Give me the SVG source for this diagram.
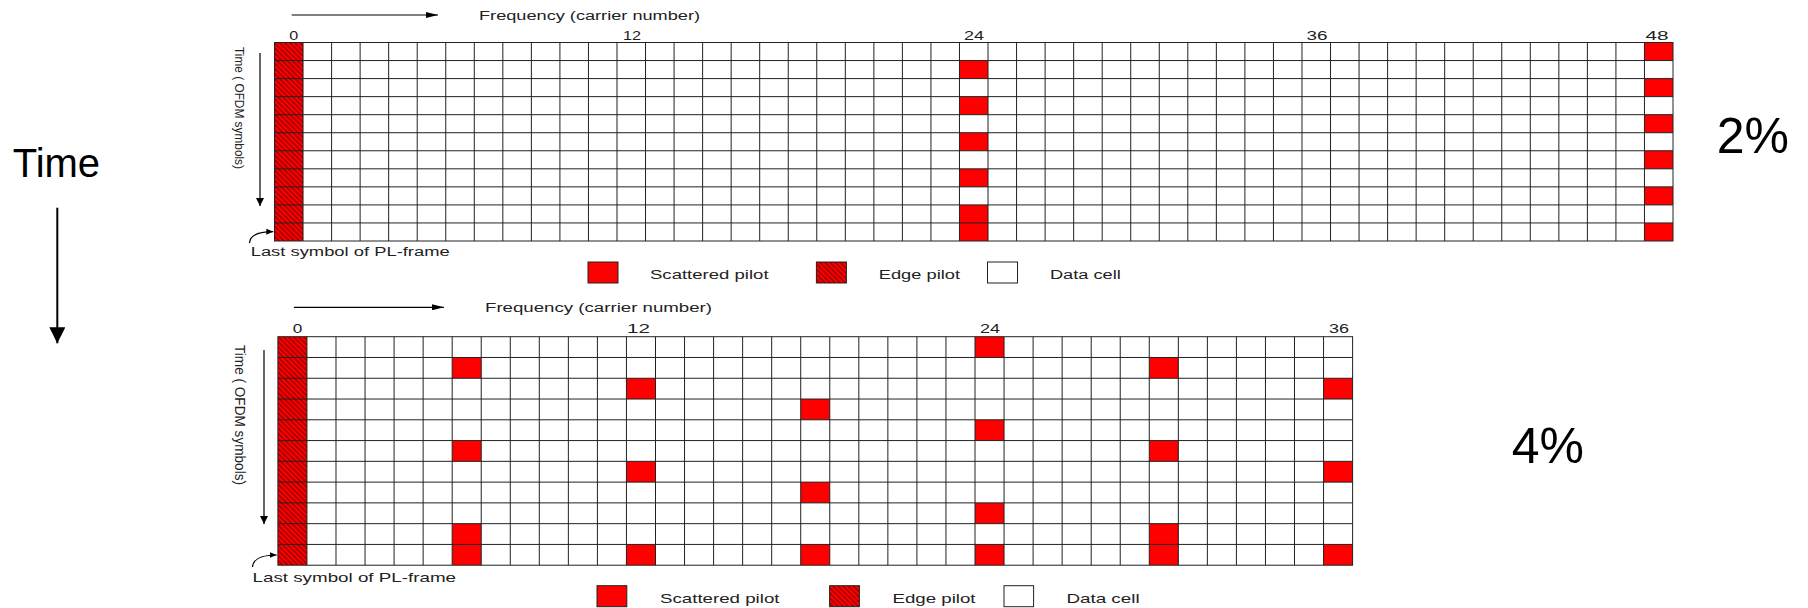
<svg xmlns="http://www.w3.org/2000/svg" width="1808" height="608" viewBox="0 0 1808 608">
<defs>
<style>
.grid{fill:none;stroke:#222;stroke-width:1}
.sp{fill:#f00;stroke:#222;stroke-width:1}
.ep{fill:url(#hatch);stroke:#222;stroke-width:1}
.dc{fill:#fff;stroke:#222;stroke-width:1}
.t{font-family:"Liberation Sans",Arial,sans-serif;fill:#222}
.big{font-family:"Liberation Sans",Arial,sans-serif;fill:#000}
.ar{fill:none;stroke:#000;stroke-width:1.2}
</style>
<pattern id="hatch" width="3.6" height="3.6" patternUnits="userSpaceOnUse" patternTransform="rotate(-45)">
<rect width="3.6" height="3.6" fill="#f00"/>
<line x1="1.8" y1="0" x2="1.8" y2="3.6" stroke="#400" stroke-width="0.8"/>
</pattern>
<marker id="ahS" markerUnits="userSpaceOnUse" markerWidth="12" markerHeight="6" refX="12" refY="3" orient="auto"><path d="M0,0L12,3L0,6z" fill="#000"/></marker>
<marker id="ahM" markerUnits="userSpaceOnUse" markerWidth="8" markerHeight="8" refX="8" refY="4" orient="auto"><path d="M0,0L8,4L0,8z" fill="#000"/></marker>
<marker id="ahC" markerUnits="userSpaceOnUse" markerWidth="7" markerHeight="6" refX="7" refY="3" orient="auto"><path d="M0,0L7,3L0,6z" fill="#000"/></marker>
<marker id="ahB" markerUnits="userSpaceOnUse" markerWidth="16" markerHeight="16" refX="16" refY="8" orient="auto"><path d="M0,0L16,8L0,16z" fill="#000"/></marker>
</defs>
<rect width="1808" height="608" fill="#fff"/>

<g id="time-label">
<text class="big" x="12.7" y="176.7" font-size="40">Time</text>
</g>
<g id="pct-2"><text class="big" x="1716.7" y="153.3" font-size="50">2%</text></g>
<g id="pct-4"><text class="big" x="1511.7" y="462.7" font-size="50">4%</text></g>

<g id="top-grid">
<rect x="274.5" y="42.5" width="1398.5" height="198.5" fill="#fff"/>
<rect x="274.5" y="42.5" width="28.54" height="198.5" fill="url(#hatch)"/>
<g fill="#f00">
<rect x="959.48" y="60.55" width="28.54" height="18.05"/>
<rect x="959.48" y="96.64" width="28.54" height="18.05"/>
<rect x="959.48" y="132.73" width="28.54" height="18.05"/>
<rect x="959.48" y="168.82" width="28.54" height="18.05"/>
<rect x="959.48" y="204.91" width="28.54" height="36.09"/>
<rect x="1644.47" y="42.5" width="28.54" height="18.05"/>
<rect x="1644.47" y="78.59" width="28.54" height="18.05"/>
<rect x="1644.47" y="114.68" width="28.54" height="18.05"/>
<rect x="1644.47" y="150.77" width="28.54" height="18.05"/>
<rect x="1644.47" y="186.86" width="28.54" height="18.05"/>
<rect x="1644.47" y="222.95" width="28.54" height="18.05"/>
</g>
<path class="grid" d="M303.04 42.5V241M331.58 42.5V241M360.12 42.5V241M388.66 42.5V241M417.21 42.5V241M445.75 42.5V241M474.29 42.5V241M502.83 42.5V241M531.37 42.5V241M559.91 42.5V241M588.45 42.5V241M616.99 42.5V241M645.53 42.5V241M674.07 42.5V241M702.62 42.5V241M731.16 42.5V241M759.7 42.5V241M788.24 42.5V241M816.78 42.5V241M845.32 42.5V241M873.86 42.5V241M902.4 42.5V241M930.94 42.5V241M959.48 42.5V241M988.03 42.5V241M1016.57 42.5V241M1045.11 42.5V241M1073.65 42.5V241M1102.19 42.5V241M1130.73 42.5V241M1159.27 42.5V241M1187.81 42.5V241M1216.35 42.5V241M1244.89 42.5V241M1273.44 42.5V241M1301.98 42.5V241M1330.52 42.5V241M1359.06 42.5V241M1387.6 42.5V241M1416.14 42.5V241M1444.68 42.5V241M1473.22 42.5V241M1501.76 42.5V241M1530.3 42.5V241M1558.85 42.5V241M1587.39 42.5V241M1615.93 42.5V241M1644.47 42.5V241M274.5 60.55H1673M274.5 78.59H1673M274.5 96.64H1673M274.5 114.68H1673M274.5 132.73H1673M274.5 150.77H1673M274.5 168.82H1673M274.5 186.86H1673M274.5 204.91H1673M274.5 222.95H1673"/>
<rect class="grid" x="274.5" y="42.5" width="1398.5" height="198.5"/>
<g class="t" font-size="13" text-anchor="middle">
<text x="293.7" y="39.5" textLength="9" lengthAdjust="spacingAndGlyphs">0</text>
<text x="632" y="39.5" textLength="18" lengthAdjust="spacingAndGlyphs">12</text>
<text x="974" y="39.5" textLength="20" lengthAdjust="spacingAndGlyphs">24</text>
<text x="1317" y="39.5" textLength="21" lengthAdjust="spacingAndGlyphs">36</text>
<text x="1657" y="39.5" textLength="23" lengthAdjust="spacingAndGlyphs">48</text>
</g>
<text class="t" x="479" y="20" font-size="12" textLength="221" lengthAdjust="spacingAndGlyphs">Frequency (carrier number)</text>
<text class="t" font-size="13" transform="translate(235,47) rotate(90)" textLength="122" lengthAdjust="spacingAndGlyphs">Time ( OFDM symbols)</text>
<text class="t" x="250.7" y="256" font-size="12.5" textLength="199" lengthAdjust="spacingAndGlyphs">Last symbol of PL-frame</text>
</g>

<g id="top-legend">
<rect class="sp" x="588" y="262" width="30" height="21"/>
<text class="t" x="650" y="279.4" font-size="12.5" textLength="118.6" lengthAdjust="spacingAndGlyphs">Scattered pilot</text>
<rect class="ep" x="816.4" y="262" width="30" height="21"/>
<text class="t" x="878.8" y="279.4" font-size="12.5" textLength="81.2" lengthAdjust="spacingAndGlyphs">Edge pilot</text>
<rect class="dc" x="987.5" y="262" width="30" height="21"/>
<text class="t" x="1049.9" y="279.4" font-size="12.5" textLength="71" lengthAdjust="spacingAndGlyphs">Data cell</text>
</g>

<g id="bottom-grid">
<rect x="277.9" y="336.7" width="1074.7" height="228.5" fill="#fff"/>
<rect x="277.9" y="336.7" width="29.05" height="228.5" fill="url(#hatch)"/>
<g fill="#f00">
<rect x="452.18" y="357.47" width="29.05" height="20.78"/>
<rect x="452.18" y="440.57" width="29.05" height="20.78"/>
<rect x="452.18" y="523.66" width="29.05" height="41.54"/>
<rect x="626.45" y="378.25" width="29.05" height="20.78"/>
<rect x="626.45" y="461.34" width="29.05" height="20.78"/>
<rect x="626.45" y="544.43" width="29.05" height="20.77"/>
<rect x="800.73" y="399.02" width="29.05" height="20.78"/>
<rect x="800.73" y="482.11" width="29.05" height="20.78"/>
<rect x="800.73" y="544.43" width="29.05" height="20.77"/>
<rect x="975" y="336.7" width="29.05" height="20.78"/>
<rect x="975" y="419.79" width="29.05" height="20.78"/>
<rect x="975" y="502.88" width="29.05" height="20.78"/>
<rect x="975" y="544.43" width="29.05" height="20.77"/>
<rect x="1149.28" y="357.47" width="29.05" height="20.78"/>
<rect x="1149.28" y="440.57" width="29.05" height="20.78"/>
<rect x="1149.28" y="523.66" width="29.05" height="41.54"/>
<rect x="1323.56" y="378.25" width="29.05" height="20.78"/>
<rect x="1323.56" y="461.34" width="29.05" height="20.78"/>
<rect x="1323.56" y="544.43" width="29.05" height="20.77"/>
</g>
<path class="grid" d="M306.95 336.7V565.2M335.99 336.7V565.2M365.04 336.7V565.2M394.08 336.7V565.2M423.13 336.7V565.2M452.18 336.7V565.2M481.22 336.7V565.2M510.27 336.7V565.2M539.31 336.7V565.2M568.36 336.7V565.2M597.41 336.7V565.2M626.45 336.7V565.2M655.5 336.7V565.2M684.54 336.7V565.2M713.59 336.7V565.2M742.64 336.7V565.2M771.68 336.7V565.2M800.73 336.7V565.2M829.77 336.7V565.2M858.82 336.7V565.2M887.87 336.7V565.2M916.91 336.7V565.2M945.96 336.7V565.2M975 336.7V565.2M1004.05 336.7V565.2M1033.1 336.7V565.2M1062.14 336.7V565.2M1091.19 336.7V565.2M1120.23 336.7V565.2M1149.28 336.7V565.2M1178.33 336.7V565.2M1207.37 336.7V565.2M1236.42 336.7V565.2M1265.46 336.7V565.2M1294.51 336.7V565.2M1323.56 336.7V565.2M277.9 357.47H1352.6M277.9 378.25H1352.6M277.9 399.02H1352.6M277.9 419.79H1352.6M277.9 440.57H1352.6M277.9 461.34H1352.6M277.9 482.11H1352.6M277.9 502.88H1352.6M277.9 523.66H1352.6M277.9 544.43H1352.6"/>
<rect class="grid" x="277.9" y="336.7" width="1074.7" height="228.5"/>
<g class="t" font-size="13.5" text-anchor="middle">
<text x="297.5" y="333.3" textLength="9.6" lengthAdjust="spacingAndGlyphs">0</text>
<text x="638.5" y="333.3" textLength="23" lengthAdjust="spacingAndGlyphs">12</text>
<text x="990" y="333.3" textLength="20" lengthAdjust="spacingAndGlyphs">24</text>
<text x="1339" y="333.3" textLength="20" lengthAdjust="spacingAndGlyphs">36</text>
</g>
<text class="t" x="485" y="312.3" font-size="12.5" textLength="227" lengthAdjust="spacingAndGlyphs">Frequency (carrier number)</text>
<text class="t" font-size="14" transform="translate(235,345) rotate(90)" textLength="140" lengthAdjust="spacingAndGlyphs">Time ( OFDM symbols)</text>
<text class="t" x="252.5" y="582.3" font-size="13" textLength="203.5" lengthAdjust="spacingAndGlyphs">Last symbol of PL-frame</text>
</g>

<g id="bottom-legend">
<rect class="sp" x="597" y="585.7" width="29.8" height="21"/>
<text class="t" x="660" y="603.3" font-size="13" textLength="119.5" lengthAdjust="spacingAndGlyphs">Scattered pilot</text>
<rect class="ep" x="829.6" y="585.7" width="29.8" height="21"/>
<text class="t" x="892.5" y="603.3" font-size="13" textLength="83" lengthAdjust="spacingAndGlyphs">Edge pilot</text>
<rect class="dc" x="1004" y="585.7" width="29.6" height="21"/>
<text class="t" x="1066.4" y="603.3" font-size="13" textLength="73.2" lengthAdjust="spacingAndGlyphs">Data cell</text>
</g>

<g id="connectors">
<line class="ar" x1="291.7" y1="15" x2="438" y2="15" marker-end="url(#ahS)"/>
<line class="ar" x1="293.9" y1="307.3" x2="443.9" y2="307.3" marker-end="url(#ahS)"/>
<line class="ar" x1="260" y1="53" x2="260" y2="206" marker-end="url(#ahM)"/>
<line class="ar" x1="264" y1="350" x2="264" y2="524" marker-end="url(#ahM)"/>
<path class="ar" d="M249.5,243C250,236 256,231.7 273.3,231.7" marker-end="url(#ahC)"/>
<path class="ar" d="M252.5,567C253,560 259,555 276.6,555" marker-end="url(#ahC)"/>
<line x1="57.3" y1="207.7" x2="57.3" y2="343.3" stroke="#000" stroke-width="2" marker-end="url(#ahB)"/>
</g>
</svg>
